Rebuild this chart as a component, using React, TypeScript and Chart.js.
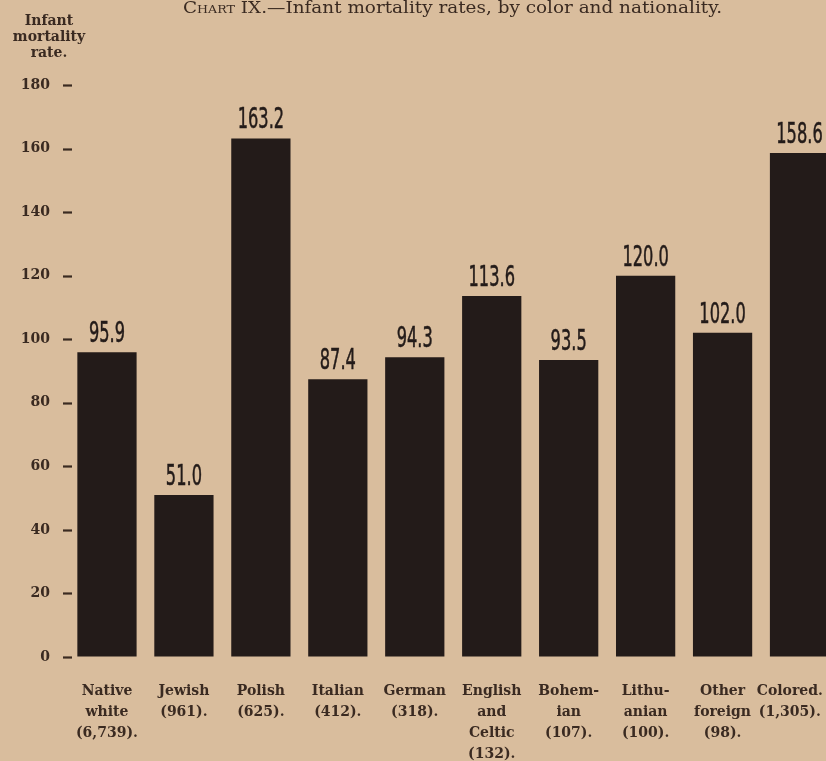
import React, { useEffect, useRef } from "react";
import { Chart, registerables } from "chart.js";

Chart.register(...registerables);

// Categories with the number of births in parentheses
// (the last one is padded so it stays inside the page edge)
const categories: string[][] = [
  ["Native", "white", "(6,739)."],
  ["Jewish", "(961)."],
  ["Polish", "(625)."],
  ["Italian", "(412)."],
  ["German", "(318)."],
  ["English", "and", "Celtic", "(132)."],
  ["Bohem-", "ian", "(107)."],
  ["Lithu-", "anian", "(100)."],
  ["Other", "foreign", "(98)."],
  ["Colored.\u2007\u2007", "(1,305).\u2007\u2007"],
];

// Infant mortality rate per 1,000 live births
const rates: number[] = [95.9, 51.0, 163.2, 87.4, 94.3, 113.6, 93.5, 120.0, 102.0, 158.6];

const yTicks: number[] = [0, 20, 40, 60, 80, 100, 120, 140, 160, 180];

const titleCaps = "Chart";
const titleRest = " IX.—Infant mortality rates, by color and nationality.";
const yTitle: string[] = ["Infant", "mortality", "rate."];

const PAPER = "#d9bd9d";
const INK = "#231b19";
const PRINT = "#3a2a21";

const annotations = {
  id: "annotations",
  afterDatasetsDraw(chart: Chart) {
    const ctx = chart.ctx;
    const meta = chart.getDatasetMeta(0);
    ctx.save();
    ctx.fillStyle = INK;
    ctx.strokeStyle = INK;
    ctx.lineWidth = 0.6;
    ctx.textAlign = "center";
    ctx.textBaseline = "alphabetic";
    ctx.font = "29px 'DejaVu Sans'";
    meta.data.forEach((bar: any, i: number) => {
      const { x, y } = bar.getProps(["x", "y"], true);
      const label = rates[i].toFixed(1);
      ctx.save();
      ctx.translate(x, y - 10);
      ctx.scale(0.56, 1);
      ctx.fillText(label, 0, 0);
      ctx.strokeText(label, 0, 0);
      ctx.restore();
    });
    ctx.restore();
  },
  afterDraw(chart: Chart) {
    const ctx = chart.ctx;
    const yScale = chart.scales.y;
    ctx.save();
    // short dashes beside the y tick labels
    ctx.strokeStyle = PRINT;
    ctx.lineWidth = 2.2;
    yScale.ticks.forEach((t: any) => {
      const py = Math.round(yScale.getPixelForValue(t.value)) + 0.5;
      ctx.beginPath();
      ctx.moveTo(63, py);
      ctx.lineTo(72, py);
      ctx.stroke();
    });

    ctx.fillStyle = PRINT;
    ctx.textBaseline = "middle";
    // title, "Chart" set in small capitals
    const capsFont = "small-caps 16px 'DejaVu Serif'";
    const restFont = "16px 'DejaVu Serif'";
    ctx.font = capsFont;
    const w1 = ctx.measureText(titleCaps).width;
    ctx.font = restFont;
    const w2 = ctx.measureText(titleRest).width;
    const left = 183;
    const sx = 539 / (w1 + w2);
    ctx.save();
    ctx.translate(left, 9);
    ctx.scale(sx, 1);
    ctx.textAlign = "left";
    ctx.font = capsFont;
    ctx.fillText(titleCaps, 0, 0);
    ctx.font = restFont;
    ctx.fillText(titleRest, w1, 0);
    ctx.restore();

    // y axis caption
    ctx.textAlign = "center";
    ctx.font = "bold 14px 'DejaVu Serif'";
    yTitle.forEach((line, i) => {
      ctx.fillText(line, 49, 21 + i * 16);
    });
    ctx.restore();
  },
};

export default function App() {
  const ref = useRef<HTMLCanvasElement | null>(null);

  useEffect(() => {
    document.body.style.margin = "0";
    document.body.style.overflow = "hidden";
    document.body.style.background = PAPER;
    const canvas = ref.current!;
    const chart = new Chart(canvas, {
      type: "bar",
      data: {
        labels: categories,
        datasets: [
          {
            data: rates,
            backgroundColor: INK,
            borderWidth: 0,
            barPercentage: 0.77,
            categoryPercentage: 1,
          },
        ],
      },
      options: {
        responsive: false,
        animation: false,
        layout: { padding: { top: 85, right: 2, left: 0, bottom: 0 } },
        plugins: {
          legend: { display: false },
          tooltip: { enabled: false },
        },
        scales: {
          x: {
            grid: { display: false, drawTicks: false },
            border: { display: false },
            ticks: {
              color: PRINT,
              padding: 24,
              maxRotation: 0,
              autoSkip: false,
              font: { family: "'DejaVu Serif'", size: 14, weight: "bold", lineHeight: 1.5 },
            },
            afterFit(scale: any) {
              scale.height = 104;
              scale.paddingLeft = 0;
              scale.paddingRight = 0;
            },
          },
          y: {
            min: 0,
            max: 180,
            afterBuildTicks(scale: any) {
              scale.ticks = yTicks.map((v) => ({ value: v }));
            },
            grid: { drawOnChartArea: false, drawTicks: false },
            border: { display: false },
            ticks: {
              color: PRINT,
              padding: 18.5,
              font: { family: "'DejaVu Serif'", size: 14, weight: "bold" },
            },
            afterFit(scale: any) {
              scale.width = 68.5;
            },
          },
        },
      },
      plugins: [annotations],
    });
    return () => chart.destroy();
  }, []);

  return (
    <div style={{ position: "absolute", left: 0, top: 0, width: 840, height: 761, background: PAPER }}>
      <canvas ref={ref} width={840} height={761} />
    </div>
  );
}
